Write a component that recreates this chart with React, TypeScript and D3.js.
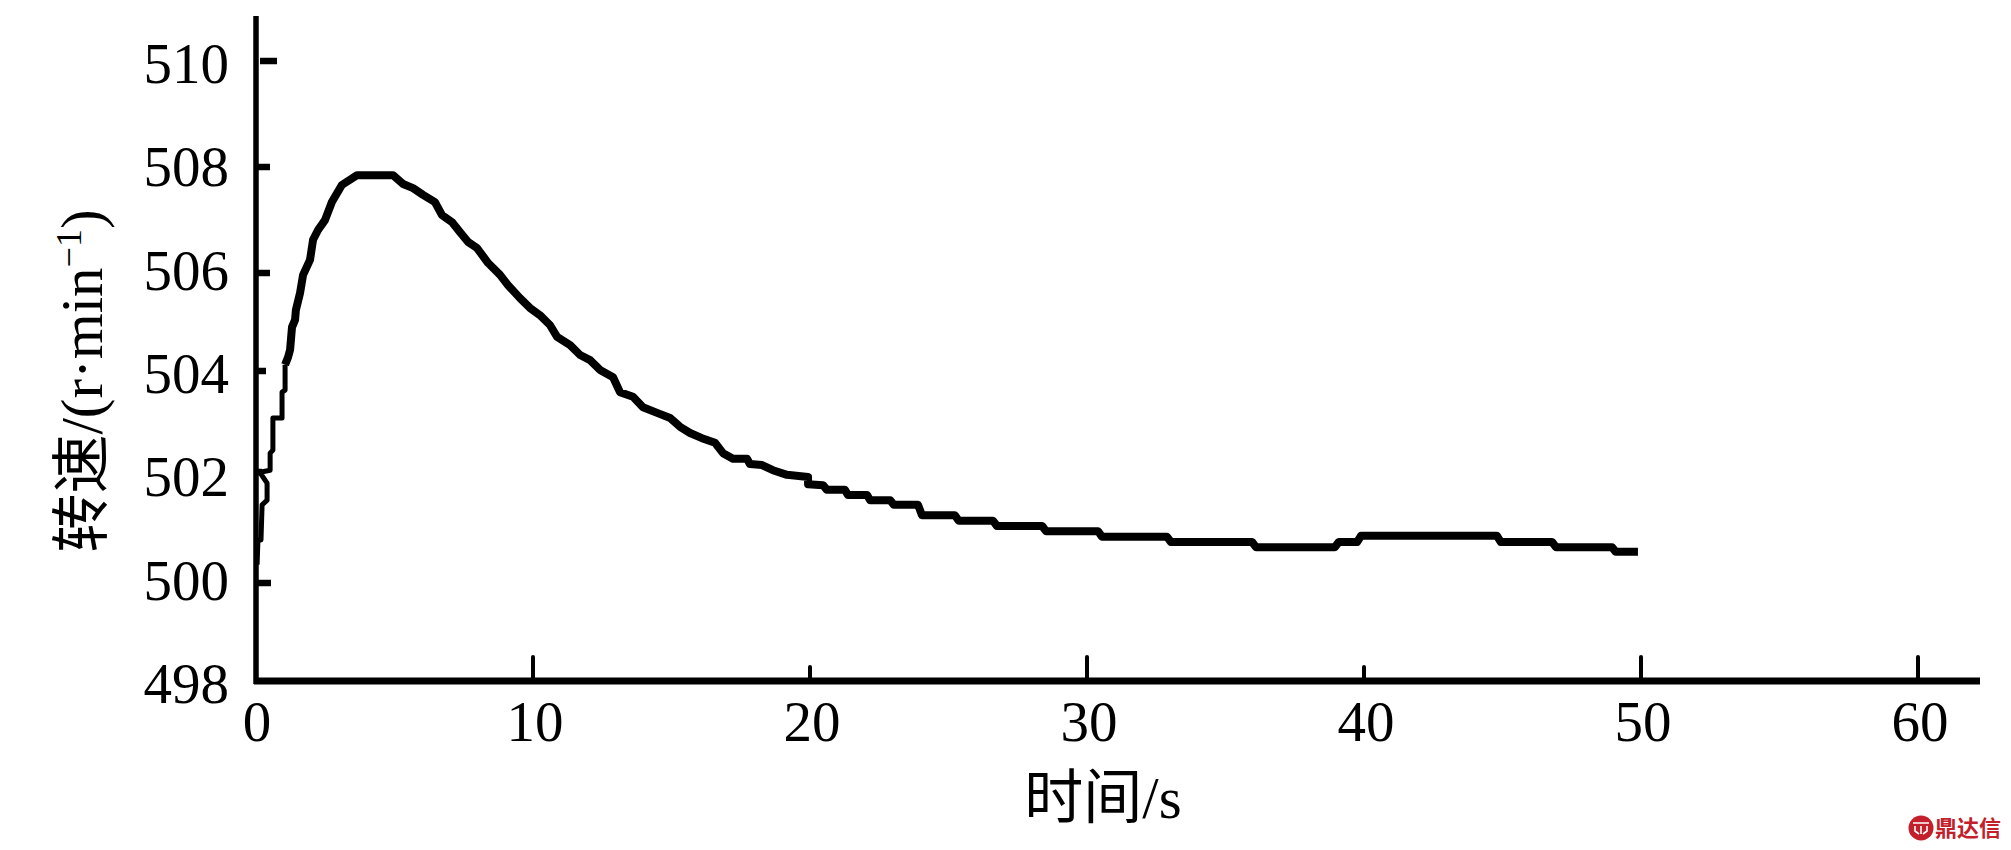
import React from "react";
import * as d3 from "d3";

const W = 2011;
const H = 850;
const SERIF = "'Liberation Serif','Noto Sans CJK SC',serif";

const xTicks = [0, 10, 20, 30, 40, 50, 60];
const xTickLabels = ["0", "10", "20", "30", "40", "50", "60"];
const xTickLengths = [0, 24, 14, 24, 14, 24, 24];
const yTicks = [498, 500, 502, 504, 506, 508, 510];
const yTickLabels = ["498", "500", "502", "504", "506", "508", "510"];
const yTickEnds = [0, 271, 262, 266, 270, 270, 277];

// rise: thin early part of the curve
const riseT = [0.04, 0.07, 0.18, 0.22, 0.4, 0.4, 0.14, 0.51, 0.51, 0.61, 0.61, 0.94, 0.94, 1.05, 1.05];
const riseV = [500.25, 500.73, 500.73, 501.41, 501.5, 501.83, 502.04, 502.08, 502.41, 502.47, 503.09, 503.09, 503.59, 503.63, 504.12];

// main: peak and decay
const mainT = [1.05, 1.16, 1.23, 1.3, 1.41, 1.44, 1.59, 1.7, 1.95, 2.06, 2.24, 2.49, 2.74, 3.1, 3.65, 4.95, 5.31, 5.67, 6.03, 6.46, 6.71, 7.08, 7.36, 7.65, 7.98, 8.38, 8.81, 9.1, 9.53, 9.89, 10.25, 10.61, 10.87, 11.34, 11.7, 12.06, 12.42, 12.89, 13.14, 13.61, 13.97, 14.48, 14.95, 15.31, 15.67, 16.1, 16.57, 16.86, 17.22, 17.73, 17.83, 18.27, 18.66, 19.17, 19.93, 19.93, 20.47, 20.61, 21.26, 21.37, 22.06, 22.17, 22.89];
const mainV = [504.12, 504.27, 504.41, 504.85, 504.99, 505.18, 505.51, 505.86, 506.15, 506.54, 506.73, 506.92, 507.27, 507.6, 507.79, 507.79, 507.62, 507.54, 507.41, 507.27, 507.02, 506.88, 506.69, 506.5, 506.38, 506.09, 505.86, 505.66, 505.41, 505.22, 505.08, 504.89, 504.66, 504.5, 504.31, 504.21, 504.02, 503.88, 503.59, 503.5, 503.3, 503.19, 503.09, 502.92, 502.8, 502.7, 502.61, 502.41, 502.3, 502.3, 502.2, 502.18, 502.08, 501.99, 501.95, 501.81, 501.79, 501.7, 501.7, 501.6, 501.6, 501.5, 501.5];

// tail: staircase levels and the time at which each level ends
const stepEnds = [23.9, 25.23, 26.61, 28.38, 30.4, 32.89, 35.96, 38.95, 39.75, 44.8, 46.79, 48.95, 49.89];
const stepLevels = [501.41, 501.21, 501.1, 501.0, 500.9, 500.79, 500.69, 500.59, 500.69, 500.81, 500.69, 500.59, 500.5];

const x = d3.scaleLinear().domain([0, 60]).range([256, 1918]);
const y = d3.scaleLinear().domain([498, 510]).range([681, 61]);
// the tick marks in the scanned figure sit slightly off the regular grid
const yTickScale = d3.scaleLinear().domain(yTicks).range([681, 583, 472, 371, 273, 167, 61]);

const lineGen = d3
  .line<[number, number]>()
  .x((d) => x(d[0]))
  .y((d) => y(d[1]));

const risePts: [number, number][] = riseT.map((t, i) => [t, riseV[i]]);
const mainPts: [number, number][] = mainT.map((t, i) => [t, mainV[i]]);
const STEP_GAP = 0.14;
stepEnds.forEach((t, i) => {
  const start = i === 0 ? mainT[mainT.length - 1] : stepEnds[i - 1];
  mainPts.push([start + STEP_GAP, stepLevels[i]]);
  mainPts.push([t, stepLevels[i]]);
});

export default function App() {
  return (
    <svg
      width={W}
      height={H}
      viewBox={`0 0 ${W} ${H}`}
      style={{ position: "absolute", left: 0, top: 0, display: "block", background: "#fff" }}
    >
      {/* axes */}
      <line x1={256} x2={256} y1={16} y2={684} stroke="#000" strokeWidth={5.5} />
      <line x1={254} x2={1980} y1={681} y2={681} stroke="#000" strokeWidth={7} />

      {/* y ticks */}
      {yTicks.map((v, i) =>
        yTickEnds[i] ? (
          <line
            key={v}
            x1={v === 510 ? 260 : 256}
            x2={yTickEnds[i]}
            y1={yTickScale(v)}
            y2={yTickScale(v)}
            stroke="#000"
            strokeWidth={6.5}
          />
        ) : null
      )}
      {yTicks.map((v, i) => (
        <text
          key={v}
          x={229}
          y={y(v) + 22}
          textAnchor="end"
          fontFamily={SERIF}
          fontSize={57}
          fill="#000"
        >
          {yTickLabels[i]}
        </text>
      ))}

      {/* x ticks */}
      {xTicks.map((v, i) =>
        xTickLengths[i] ? (
          <line
            key={v}
            x1={x(v)}
            x2={x(v)}
            y1={681}
            y2={681 - xTickLengths[i]}
            stroke="#000"
            strokeWidth={4}
            strokeLinecap="round"
          />
        ) : null
      )}
      {xTicks.map((v, i) => (
        <text
          key={v}
          x={x(v) + (i === 0 ? 1 : 2)}
          y={741}
          textAnchor="middle"
          fontFamily={SERIF}
          fontSize={57}
          fill="#000"
        >
          {xTickLabels[i]}
        </text>
      ))}

      {/* curve */}
      <path d={lineGen(risePts) || ""} fill="none" stroke="#000" strokeWidth={5} strokeLinejoin="round" />
      <path d={lineGen(mainPts) || ""} fill="none" stroke="#000" strokeWidth={8} strokeLinejoin="round" />

      {/* axis titles */}
      <text x={1103} y={818} textAnchor="middle" fontFamily={SERIF} fontSize={59} fill="#000">
        时间/s
      </text>
      <text
        transform="translate(102,381) rotate(-90)"
        textAnchor="middle"
        fontFamily={SERIF}
        fontSize={59}
        fill="#000"
      >
        转速/(r·min
        <tspan dy={-21} fontSize={36}>−1</tspan>
        <tspan dy={21}>)</tspan>
      </text>

      {/* watermark */}
      <g>
        <circle cx={1921} cy={828} r={12.5} fill="#c3202c" />
        <path
          d="M1913 823h16M1915 826v5l4 3M1927 826v5l-4 3M1921 826v8"
          fill="none"
          stroke="#fff"
          strokeWidth={1.6}
        />
        <text
          x={1935}
          y={836}
          fontFamily="'Noto Sans CJK SC',sans-serif"
          fontWeight={700}
          fontSize={22}
          fill="#c3202c"
        >
          鼎达信
        </text>
      </g>
    </svg>
  );
}
